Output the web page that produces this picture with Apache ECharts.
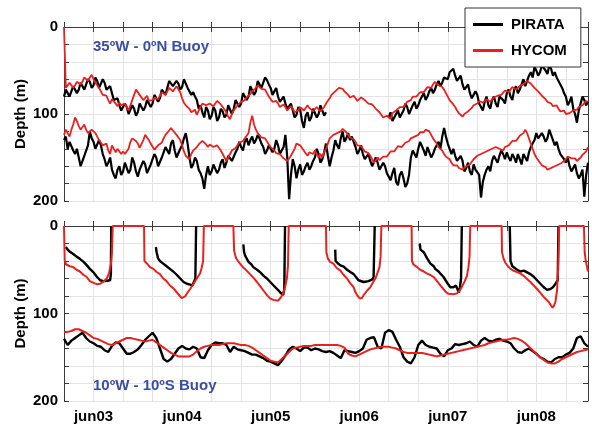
<!DOCTYPE html>
<html>
<head>
<meta charset="utf-8">
<script src="https://cdn.jsdelivr.net/npm/echarts@6/dist/echarts.min.js"></script>
<style>
html,body{margin:0;padding:0;background:#fff;}
#chart{width:592px;height:426px;}
</style>
</head>
<body>
<div id="chart"></div>
<script>
// Time axis: hours, where 72 = jun03 00:00 (so hour/24 = day of June)
const hourStart = 64;
const dayLabels = {72:'jun03',96:'jun04',120:'jun05',144:'jun06',168:'jun07',192:'jun08'};
const depthTicks = [0,100,200];

// ---- Top panel (35ºW - 0ºN) ----
// values on the hour (64..206) and on the half hour (64.5..205.5)
const pirataTopUpper = [
80,74,78,70,72,66,70,63,67,62,68,64,70,76,86,90,95,92,99,94,98,90,92,85,88,80,82,74,70,60,70,65,69,62,72,75,
84,90,104,96,102,96,104,97,101,92,94,86,88,78,80,70,74,64,68,61,70,74,80,84,88,92,96,101,95,116,98,104,95,100,92,98,
null,null,null,null,null,null,null,null,null,null,null,null,null,null,null,null,
104,108,100,104,96,92,98,86,90,80,84,74,76,66,68,58,60,50,56,60,66,70,76,80,78,92,86,90,84,88,80,84,76,80,72,76,
66,68,56,58,50,52,46,54,48,52,62,70,80,86,94,110,88,84,86];
const pirataTopUpperHalf = [
72,80,68,76,64,72,60,70,58,70,60,72,68,84,82,96,88,100,90,102,
88,96,84,92,78,86,72,78,62,68,62,72,60,70,78,80,94,98,92,106,
92,108,94,104,90,100,84,92,76,84,68,78,62,70,58,66,78,70,86,80,
94,88,104,92,108,102,108,94,104,90,102,
null,null,null,null,null,null,null,null,null,null,null,null,null,null,null,null,null,
98,110,96,100,88,100,90,94,84,76,80,70,72,62,64,56,52,48,62,56,
72,66,82,74,88,96,80,94,80,92,78,88,72,84,68,72,60,62,52,46,
56,44,50,44,56,58,66,76,90,80,100,96,80,90];
const pirataTopLower = [
130,140,134,146,150,158,146,120,132,138,136,152,156,164,174,160,166,158,164,156,
172,162,158,166,152,150,158,144,140,134,142,148,136,122,150,158,154,168,186,160,
166,158,164,152,156,146,152,140,138,132,136,126,130,128,138,142,134,140,136,144,
124,198,152,174,158,166,156,160,150,146,152,134,160,142,136,128,132,122,126,138,
142,146,150,154,158,156,162,160,172,168,178,170,174,180,150,144,140,134,148,140,
146,136,140,116,134,146,148,156,154,162,166,158,162,196,170,160,154,150,148,146,
144,154,150,146,158,150,144,136,122,130,126,128,120,136,140,148,156,160,164,168,
170,195,156];
const pirataTopLowerHalf = [
126,132,142,140,160,148,136,128,140,130,146,160,150,170,164,170,156,168,150,166,
164,154,168,158,146,160,150,138,146,130,150,140,128,134,162,150,164,174,170,170,
158,168,156,162,148,154,144,132,142,128,130,134,124,134,146,136,144,130,146,138,
150,170,160,164,170,160,164,154,140,156,144,148,150,130,140,120,128,130,132,146,
136,152,146,160,150,164,156,168,176,162,182,166,184,170,142,150,132,142,138,150,
140,132,126,126,140,140,154,148,166,156,170,164,170,178,164,166,148,156,142,152,
150,146,156,152,146,154,138,130,128,122,132,118,130,132,146,152,150,166,158,174,
164,170];
const hycomTopUpper = [
0,68,66,67,62,63,60,58,60,67,74,80,84,83,88,87,92,92,96,78,74,80,82,85,84,80,79,76,74,71,72,70,82,90,94,97,
101,92,86,92,86,88,84,92,98,106,96,90,86,84,80,74,70,68,69,76,82,84,88,91,92,95,94,99,92,96,90,94,96,92,95,88,
82,76,72,68,74,78,80,82,84,82,85,86,90,96,100,106,103,99,96,92,92,86,84,82,78,73,72,68,66,64,66,72,80,86,92,99,
103,100,96,90,88,84,86,82,84,80,78,76,74,72,70,71,67,65,63,66,72,76,80,86,88,92,94,98,100,99,96,95,92,88,86];
const hycomTopUpperHalf = [
70,64,70,63,66,58,62,55,64,70,
78,79,88,85,91,90,88,96,84,72,
78,84,79,87,81,83,75,78,70,74,
68,75,87,92,98,95,96,88,90,88,
91,85,89,94,103,100,93,88,87,81,
77,72,67,71,72,80,86,85,92,89,
96,91,98,96,90,93,93,97,92,97,
92,86,78,74,70,71,76,81,79,85,
81,84,88,89,94,98,104,102,106,97,
98,94,89,87,80,80,75,75,69,70,
63,67,69,76,84,89,96,101,100,97,
93,91,85,87,83,86,81,79,78,73,
75,69,72,68,66,62,65,70,74,79,
83,85,91,90,97,96,101,97,97,92,
90,85];
const hycomTopLower = [
124,122,118,104,114,116,118,122,116,126,132,138,142,136,144,140,143,148,132,126,
134,138,124,130,136,140,138,128,122,116,120,126,136,148,152,142,138,134,130,138,
134,140,138,144,154,146,140,136,132,128,122,102,118,124,126,130,138,142,146,148,
150,152,144,134,136,140,148,146,142,150,150,140,128,124,122,120,118,124,128,132,
138,140,144,148,156,150,152,148,146,144,140,138,136,132,128,126,124,122,118,120,
128,134,140,146,150,156,160,162,164,160,158,152,148,146,144,142,140,138,140,142,
136,134,132,128,126,118,128,140,150,156,160,164,162,160,158,156,152,148,152,154,
150,146,138];
const hycomTopLowerHalf = [
118,126,112,108,118,112,122,118,122,130,
136,134,146,140,140,146,146,140,128,131,
139,130,127,134,141,136,133,124,119,119,
124,130,143,150,146,140,135,131,135,135,
138,136,142,150,150,142,139,133,131,125,
110,112,122,127,128,135,140,145,146,151,
154,148,140,136,139,145,144,146,146,146,
144,134,126,123,121,117,121,127,129,136,
137,143,145,152,154,153,149,149,143,143,
137,138,133,131,127,126,121,121,118,124,
130,138,142,149,152,159,159,164,162,160,
155,151,146,146,142,142,138,140,140,138,
136,131,131,125,122,122,134,146,152,159,
161,164,160,161,156,155,149,151,151,153,
147,143];

// ---- Bottom panel (10ºW - 10ºS) ----
const pirataMldHours = [
64.5,65,65.6,66.5,67.4,68.3,68.8,69.3,70.2,71,72,72.9,73.8,74.3,74.7,75.6,76.5,76.7,76.8,
80,
88.9,89.1,89.5,90,90.9,91.8,92.7,93.6,94.6,95.5,96.4,97.3,97.7,98.2,98.8,99.3,99.6,99.8,
105,
112.6,112.8,113.1,114,114.8,115.3,116.3,117.2,118.1,119,119.9,120.8,121.5,122.1,122.6,123,123.4,123.7,123.9,
130,
137.5,137.6,138.3,138.9,139.8,140.7,141.6,142.5,142.9,143.8,144.3,145.2,145.6,146.5,147,147.6,147.9,148.2,
155,
160.4,160.6,161.5,162.4,163.3,164.2,164.6,165.5,166,166.8,167.3,168,168.7,169.5,170.2,170.6,171,171.3,171.6,171.8,
178,
184.8,185,185.5,186,186.8,187.7,188.6,189.5,190.4,191.3,192.2,193.1,194,194.9,195.8,196.5,197.2,197.8,198];
const pirataMldDepth = [
24,27,29.5,32,35,37.5,38,41,45,49,53,58,62,64,63,62.5,62,55,0,
null,
24,30,37,40,43,46,49,52,56,60,64,66,68,67,68,66,60,0,
null,
21,30,34,41,44,47,50,53,57,60,64,68,71,73.5,76,77,79,72,0,
null,
27,40,43,45,46.5,50,52.6,55,57,62,64,64,65,63,63.5,61,58,0,
null,
20,27,30,37,43,46,49,52,54.5,58,60,66,70,70,68,72,76,70,60,0,
null,
0,40,46,48,50,52,51,53,55,58,62,66,70,73,72,70,66,62,0];
const hycomMldHours = [
64,64.2,64.6,65.6,66.5,67.4,68.3,69.3,70.1,71,72,72.9,73.8,74.7,75.6,76.2,76.7,77,77.2,
85.7,85.8,86.4,87.3,88.2,89.1,90,90.9,91.8,92.7,93.6,94.6,95.4,95.9,96.4,96.8,97.5,98.2,99.1,100,100.9,101.3,101.7,101.9,
109.9,110.1,110.5,110.8,111.7,112.6,113.5,114.4,115.3,116.3,117.2,118.1,119,119.9,120.8,121.5,122.1,122.7,123.3,123.9,124.4,124.7,124.9,
135,135.1,135.5,136.1,137,137.9,138.9,139.8,140.7,141.6,142.5,142.9,143.6,144.2,144.8,145.2,146.1,147,147.8,148.4,149,149.5,149.8,150,
158.2,158.3,158.7,159.7,160.5,161.5,162.4,163.3,164.2,165.1,166,166.8,167.5,168.2,168.7,169.5,170.5,171.2,171.9,172.6,173.2,173.6,173.9,174.1,
182.6,182.7,183.1,183.6,184.3,185,186,186.8,187.7,188.6,189.5,190.4,191.3,192.2,193.1,194,194.7,195.4,196,196.4,196.8,197.2,197.6,197.9,198.2,
204.9,205.1,205.4,205.8,206];
const hycomMldDepth = [
0,40,44,46,47,50,52,56,58,63,65,66.5,66,63.6,60,54,44,30,0,
0,40,42.5,47,49,52.6,55,60,63,68,71,76,80,82.5,82,80.5,76,72,66,60,54,48,40,0,
0,28,35,38,43,47.5,51,55,59,64,69,74,79,83,84.5,85,85,82,78,70,60,45,0,
0,30,37,41,43,48,51,56,60,65.5,70,75,80,83,82,79,74,70,64,60,53,47,35,0,
0,40,44,47,50,52,54.5,56,58.5,63,67.8,72,75.5,77.5,78.5,78,77,74,69,63,57,47,35,0,
0,30,37,42,46,49,51.5,52.6,54.5,57,60.5,64,68,72,76.5,81,84,87,91,93.5,91,86,74,50,0,
0,30,40,48,52];
// hourly from hour 64 to 206
const pirataBotLower = [
129,136,131,128,125,122,128,132,134,137,138,142,144,137,133,134,140,146,146,144,
141,136,130,126,122,128,140,152,155,152,146,140,137,140,141,138,140,150,151,142,
136,133,134,134,136,144,138,141,142,143,145,147,147,149,151,154,155,157,159,154,
148,141,138,140,143,139,139,142,140,141,143,144,143,145,148,151,142,143,144,145,
143,140,130,128,127,138,140,122,119,121,130,138,150,155,157,150,136,131,136,138,
139,140,146,149,142,140,135,136,135,134,132,136,138,131,128,131,132,130,129,131,
132,134,140,144,145,142,140,143,146,150,152,155,156,152,150,150,147,145,140,128,
126,134,138];
const hycomBotLower = [
121,121,120,118,118,120,122,125,128,129,131,133,135,136,134,132,130,128,128,129,
130,131,132,131,130,133,136,139,142,145,147,149,149,149,149,147,143,140,138,137,
136,136,136,135,134,134,134,135,136,136,137,139,142,145,148,151,154,155,156,152,
148,144,140,139,138,137,137,137,136,136,136,136,136,136,136,137,139,146,148,149,
147,145,143,141,140,139,138,138,138,139,140,142,144,145,145,145,145,145,146,147,
148,149,148,147,146,145,144,143,142,141,140,139,138,137,136,134,133,132,131,130,
130,129,128,129,131,134,138,142,146,150,153,156,157,157,155,152,150,148,146,144,
143,142,141];

const BLACK = '#000000';
const RED = '#e8211f';
const AXIS = '#3a3a3a';
const GRID = '#e3e3e3';
const FONT = '"Liberation Sans", Arial, Helvetica, sans-serif';

function cell(v){ return v===null?'-':v; }
function hourly(vals){ return vals.map((v,i)=>[hourStart+i, cell(v)]); }
function withHalf(vals, half){
  const out = [];
  vals.forEach((v,i)=>{
    out.push([hourStart+i, cell(v)]);
    if (i < half.length) out.push([hourStart+i+0.5, cell(half[i])]);
  });
  return out;
}
function paired(ts, ds){ return ts.map((t,i)=>[t, cell(ds[i])]); }

const gridTop = {left:64, top:27, width:524, height:174};
const gridBot = {left:64, top:226, width:524, height:175};

function xAxisMain(gi, showLabels){
  return {type:'value', gridIndex:gi, min:64, max:206, interval:8, position:'bottom',
    axisLine:{show:true, lineStyle:{color:AXIS, width:1}},
    axisTick:{show:true, inside:true, length:5, lineStyle:{color:AXIS}},
    splitLine:{show:true, lineStyle:{color:GRID, width:1}},
    axisLabel:{show:showLabels, margin:8, color:'#000', fontSize:15, fontWeight:'bold', fontFamily:FONT,
      formatter:v=>dayLabels[v]||''}};
}
function xAxisTop(gi){
  return {type:'value', gridIndex:gi, min:64, max:206, interval:8, position:'top',
    axisLine:{show:true, lineStyle:{color:AXIS, width:1}},
    axisTick:{show:true, inside:true, length:5, lineStyle:{color:AXIS}},
    splitLine:{show:false}, axisLabel:{show:false}};
}
function yAxisMain(gi){
  return {type:'value', gridIndex:gi, min:0, max:200, interval:20, inverse:true, position:'left',
    name:'Depth (m)', nameLocation:'middle', nameGap:36, nameRotate:90, nameMoveOverlap:false,
    nameTextStyle:{color:'#000', fontSize:15, fontWeight:'bold', fontFamily:FONT},
    axisLine:{show:true, lineStyle:{color:AXIS, width:1}},
    axisTick:{show:true, inside:true, length:5, lineStyle:{color:AXIS}},
    splitLine:{show:true, lineStyle:{color:GRID, width:1}},
    axisLabel:{margin:6, color:'#000', fontSize:15, fontWeight:'bold', fontFamily:FONT,
      formatter:v=>depthTicks.indexOf(v)>=0?String(v):''}};
}
function yAxisRight(gi){
  return {type:'value', gridIndex:gi, min:0, max:200, interval:20, inverse:true, position:'right',
    axisLine:{show:true, lineStyle:{color:AXIS, width:1}},
    axisTick:{show:true, inside:true, length:5, lineStyle:{color:AXIS}},
    splitLine:{show:false}, axisLabel:{show:false}};
}
function line(name, data, xi, yi, color, width){
  return {name:name, type:'line', data:data, xAxisIndex:xi, yAxisIndex:yi,
    showSymbol:false, symbol:'none', connectNulls:false, clip:true,
    lineStyle:{color:color, width:width}, itemStyle:{color:color}, z:color===RED?3:2};
}

const chart = echarts.init(document.getElementById('chart'), null, {renderer:'canvas'});
chart.setOption({
  animation:false,
  backgroundColor:'#ffffff',
  grid:[gridTop, gridBot],
  xAxis:[xAxisMain(0,false), xAxisTop(0), xAxisMain(1,true), xAxisTop(1)],
  yAxis:[yAxisMain(0), yAxisRight(0), yAxisMain(1), yAxisRight(1)],
  title:[
    {text:'35ºW - 0ºN Buoy', left:93, top:39, padding:0,
     textStyle:{color:'#3a4ea3', fontSize:15, fontWeight:'bold', fontFamily:FONT}},
    {text:'10ºW - 10ºS Buoy', left:93, top:378, padding:0,
     textStyle:{color:'#3a4ea3', fontSize:15, fontWeight:'bold', fontFamily:FONT}}
  ],
  legend:{
    data:['PIRATA','HYCOM'], orient:'vertical', left:465, top:8, z:20,
    backgroundColor:'#ffffff', borderColor:'#333333', borderWidth:1,
    padding:[9,14,9,8], itemGap:11, itemWidth:30, itemHeight:3, icon:'rect',
    textStyle:{color:'#000', fontSize:15, fontWeight:'bold', fontFamily:FONT, padding:[0,0,0,3]}
  },
  series:[
    line('PIRATA', withHalf(pirataTopUpper, pirataTopUpperHalf), 0, 0, BLACK, 2.2),
    line('PIRATA', withHalf(pirataTopLower, pirataTopLowerHalf), 0, 0, BLACK, 2.2),
    line('HYCOM', withHalf(hycomTopUpper, hycomTopUpperHalf), 0, 0, RED, 1.8),
    line('HYCOM', withHalf(hycomTopLower, hycomTopLowerHalf), 0, 0, RED, 1.8),
    line('PIRATA', paired(pirataMldHours, pirataMldDepth), 2, 2, BLACK, 2.4),
    line('PIRATA', hourly(pirataBotLower), 2, 2, BLACK, 2.4),
    line('HYCOM', paired(hycomMldHours, hycomMldDepth), 2, 2, RED, 2),
    line('HYCOM', hourly(hycomBotLower), 2, 2, RED, 2)
  ]
});
</script>
</body>
</html>
